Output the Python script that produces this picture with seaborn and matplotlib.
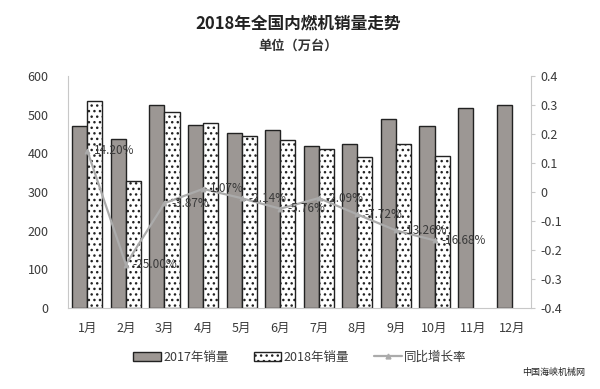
import numpy as np
import pandas as pd
import matplotlib
matplotlib.use('Agg')
import matplotlib.pyplot as plt
import matplotlib.patches as mpatches
import matplotlib.lines as mlines
from matplotlib.ticker import FuncFormatter
import seaborn as sns

# Data
months = ['1月', '2月', '3月', '4月', '5月', '6月', '7月', '8月', '9月', '10月', '11月', '12月']
sales_2017 = [470, 438, 524, 472, 452, 461, 420, 423, 490, 470, 517, 524]
sales_2018 = [536, 329, 506, 478, 444, 435, 411, 390, 425, 392, np.nan, np.nan]
growth = [0.1420, -0.2500, -0.0387, 0.0107, -0.0214, -0.0576, -0.0209, -0.0772, -0.1326, -0.1668]
growth_labels = ['14.20%', '-25.00%', '-3.87%', '1.07%', '-2.14%', '-5.76%',
                 '-2.09%', '-7.72%', '-13.26%', '-16.68%']

sns.set_style('white')
plt.rcParams['font.family'] = ['Noto Sans CJK SC', 'DejaVu Sans']
plt.rcParams['axes.unicode_minus'] = False
plt.rcParams['hatch.color'] = '#333333'
plt.rcParams['hatch.linewidth'] = 1.0

text_color = '#3a3a3a'
bar_gray = '#9d9793'
line_gray = '#ababab'

df = pd.DataFrame({
    'month': months * 2,
    'sales': sales_2017 + sales_2018,
    'year': ['2017年销量'] * 12 + ['2018年销量'] * 12,
})

fig = plt.figure(figsize=(6, 3.89), dpi=100)
fig.subplots_adjust(left=68/600, right=531/600, top=1-76/389, bottom=1-308/389)
ax = fig.add_subplot(111)

sns.barplot(data=df, x='month', y='sales', hue='year', order=months,
            palette=[bar_gray, 'white'], width=0.78, gap=0,
            edgecolor='#222222', linewidth=1.0, legend=False, ax=ax)

for i, p in enumerate(ax.patches):
    if i >= 12:
        p.set_hatch('...')

ax.set_ylim(0, 600)
ax.set_yticks(range(0, 601, 100))
ax.set_xlabel('')
ax.set_ylabel('')
ax.tick_params(axis='both', colors=text_color, labelsize=9, length=0)
ax.tick_params(axis='x', pad=10)
ax.tick_params(axis='y', pad=14)
for s in ['top', 'right']:
    ax.spines[s].set_visible(False)
ax.spines['left'].set_color('#c8c8c8')
ax.spines['bottom'].set_color('#c8c8c8')
ax.set_xlim(-0.5, 11.5)

ax2 = ax.twinx()
x_pos = np.arange(len(growth))
sns.lineplot(x=x_pos, y=growth, ax=ax2, color=line_gray, linewidth=1.6,
             marker='^', markersize=3.5, markeredgecolor=line_gray)
for xi, yi, lab in zip(x_pos, growth, growth_labels):
    ax2.annotate(lab, (xi, yi), xytext=(5, 0), textcoords='offset points',
                 ha='left', va='center', fontsize=8.5, color=text_color)
ax2.set_ylim(-0.4, 0.4)
ax2.set_yticks(np.round(np.arange(-0.4, 0.41, 0.1), 1))
ax2.yaxis.set_major_formatter(FuncFormatter(lambda v, _: '0' if abs(v) < 1e-9 else f'{v:.1f}'))
ax2.tick_params(axis='y', colors=text_color, labelsize=9, length=3, color='#c8c8c8', pad=4)
for s in ['top', 'left', 'bottom']:
    ax2.spines[s].set_visible(False)
ax2.spines['right'].set_color('#c8c8c8')
ax2.set_ylabel('')

fig.text(0.497, 0.94, '2018年全国内燃机销量走势', ha='center', va='center',
         fontsize=12, fontweight='bold', color='#222222')
fig.text(0.497, 0.882, '单位（万台）', ha='center', va='center',
         fontsize=9.5, fontweight='bold', color='#333333')

handles = [
    mpatches.Patch(facecolor=bar_gray, edgecolor='#222222', label='2017年销量'),
    mpatches.Patch(facecolor='white', edgecolor='#222222', hatch='...', label='2018年销量'),
    mlines.Line2D([], [], color=line_gray, linewidth=1.6, marker='^', markersize=3.5,
                  label='同比增长率'),
]
fig.legend(handles=handles, loc='center', bbox_to_anchor=(0.5, 1-357/389), ncol=3,
           frameon=False, fontsize=9, labelcolor=text_color, handlelength=2.2,
           handletextpad=0.2, columnspacing=2.0)

fig.text(0.975, 1-372/389, '中国海峡机械网', ha='right', va='center',
         fontsize=6.5, color='#222222')

fig.savefig('out.png', dpi=100, facecolor='white')
